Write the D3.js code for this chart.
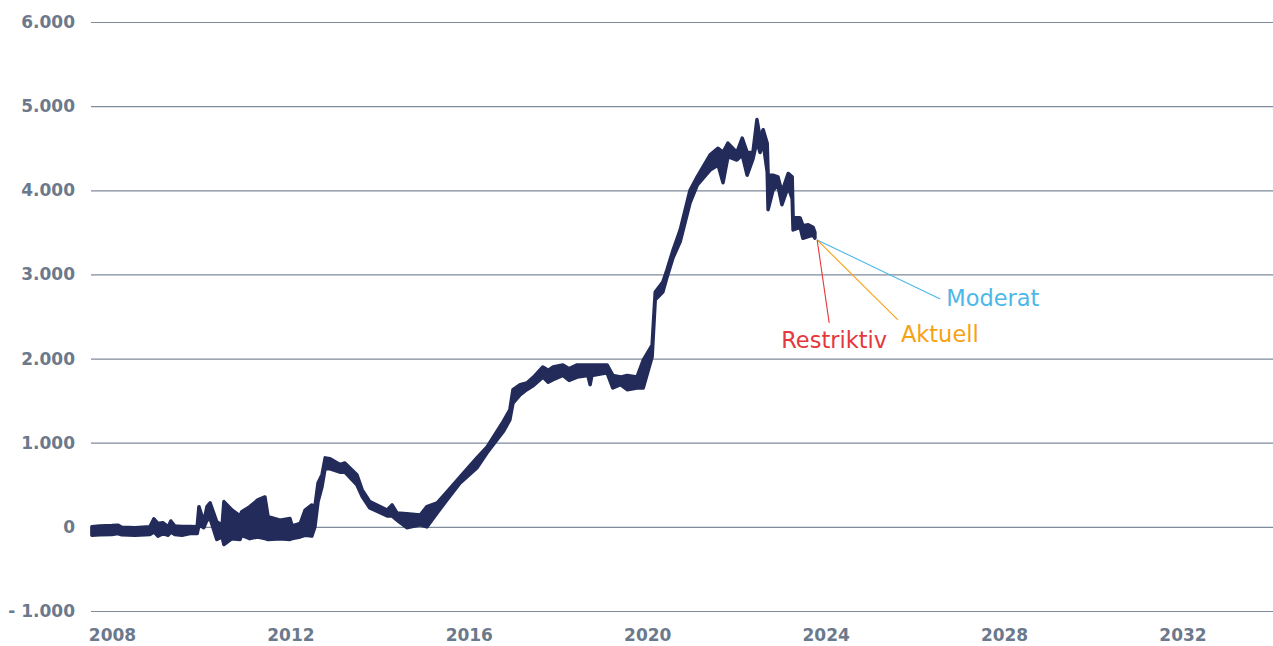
<!DOCTYPE html>
<html>
<head>
<meta charset="utf-8">
<script src="https://cdn.jsdelivr.net/npm/d3@7"></script>
<style>
  html, body { margin: 0; padding: 0; background: #fff; }
  svg { display: block; }
</style>
</head>
<body>
<div id="chart"></div>
<script>
// band of the series: decimal year, upper edge, lower edge
const years = [2007.55, 2007.73, 2008.00, 2008.13, 2008.22, 2008.52, 2008.85, 2008.94, 2009.03, 2009.14,
  2009.26, 2009.32, 2009.41, 2009.57, 2009.75, 2009.91, 2009.95, 2010.06, 2010.13, 2010.20,
  2010.35, 2010.47, 2010.51, 2010.69, 2010.87, 2010.91, 2011.09, 2011.27, 2011.43, 2011.50,
  2011.77, 2011.99, 2012.04, 2012.22, 2012.33, 2012.48, 2012.55, 2012.62, 2012.71, 2012.78,
  2012.89, 2013.11, 2013.22, 2013.49, 2013.61, 2013.78, 2014.17, 2014.28, 2014.39, 2014.61,
  2014.91, 2015.06, 2015.29, 2015.51, 2015.80, 2016.18, 2016.41, 2016.77, 2016.92, 2016.99,
  2017.15, 2017.30, 2017.45, 2017.66, 2017.78, 2017.89, 2018.11, 2018.25, 2018.43, 2018.67,
  2018.72, 2018.76, 2019.10, 2019.23, 2019.40, 2019.55, 2019.77, 2019.91, 2020.11, 2020.18,
  2020.35, 2020.44, 2020.58, 2020.74, 2020.96, 2021.12, 2021.41, 2021.59, 2021.70, 2021.81,
  2022.01, 2022.13, 2022.24, 2022.37, 2022.46, 2022.53, 2022.60, 2022.69, 2022.71, 2022.82,
  2022.93, 2023.02, 2023.16, 2023.25, 2023.27, 2023.43, 2023.49, 2023.61, 2023.72, 2023.76];
const upper = [0, 10, 15, 20, -5, -10, 0, 95, 40, 50,
  0, 70, 10, 5, 5, 0, 240, 60, 240, 285,
  60, 20, 300, 200, 130, 180, 240, 320, 355, 120,
  80, 100, 10, 40, 200, 260, 240, 520, 620, 820,
  810, 740, 760, 620, 440, 300, 200, 260, 165, 155,
  140, 240, 285, 415, 590, 820, 950, 1250, 1390, 1630,
  1690, 1710, 1780, 1900, 1860, 1900, 1925, 1880, 1925, 1925,
  1925, 1925, 1925, 1800, 1780, 1800, 1780, 1980, 2160, 2790,
  2910, 3050, 3290, 3530, 4000, 4160, 4420, 4500, 4450, 4560,
  4450, 4620, 4450, 4450, 4840, 4630, 4720, 4560, 4180, 4180,
  4160, 3980, 4200, 4160, 3690, 3670, 3580, 3590, 3560, 3500];
const lower = [-100, -95, -90, -80, -95, -100, -90, -60, -110, -80,
  -100, -60, -90, -100, -80, -80, 20, -10, 80, 100,
  -150, -120, -210, -140, -150, -100, -140, -120, -140, -150,
  -140, -150, -140, -120, -100, -110, 0, 300, 480, 700,
  690, 650, 650, 500, 360, 225, 130, 130, 80, -10,
  25, 0, 165, 320, 520, 700, 880, 1130, 1270, 1470,
  1570, 1630, 1680, 1780, 1720, 1750, 1800, 1740, 1780, 1800,
  1690, 1800, 1830, 1650, 1690, 1630, 1650, 1650, 2020, 2700,
  2790, 2960, 3200, 3390, 3850, 4060, 4240, 4300, 4090, 4400,
  4360, 4420, 4180, 4370, 4580, 4450, 4560, 4220, 3770, 4000,
  4060, 3830, 4040, 3900, 3530, 3560, 3430, 3450, 3470, 3430];

const yTicks = [-1000, 0, 1000, 2000, 3000, 4000, 5000, 6000];
const xTicks = [2008, 2012, 2016, 2020, 2024, 2028, 2032];

// scenario leader lines: start point and label end point
const scenarioNames = ["Moderat", "Aktuell", "Restriktiv"];
const scenarioColors = ["#4cb8e8", "#f5a313", "#e5383e"];
const scenarioStart = [2023.81, 3410];
const scenarioEndYear = [2026.57, 2025.62, 2024.08];
const scenarioEndValue = [2709, 2459, 2424];

const width = 1273, height = 646;
const margin = {top: 22, right: 0, bottom: 35, left: 91};
const font = "'DejaVu Sans', sans-serif";

const x = d3.scaleLinear().domain([2007.53, 2034.03]).range([margin.left, width - margin.right]);
const y = d3.scaleLinear().domain([-1000, 6000]).range([height - margin.bottom, margin.top]);

const de = d3.formatLocale({decimal: ",", thousands: ".", grouping: [3], currency: ["", " €"]});
const fmt = de.format(",d");
const yFmt = v => v < 0 ? "- " + fmt(-v) : fmt(v);

const svg = d3.select("#chart").append("svg")
  .attr("width", width)
  .attr("height", height)
  .attr("font-family", font);

// gridlines + y labels
const yAxis = svg.append("g")
  .attr("transform", `translate(${margin.left},0)`)
  .call(d3.axisLeft(y).tickValues(yTicks).tickFormat(yFmt)
    .tickSize(-(width - margin.left - margin.right)).tickPadding(16))
  .attr("font-family", font);
yAxis.select(".domain").remove();
yAxis.selectAll(".tick line").attr("stroke", "#7f8a9b").attr("stroke-width", 1.2);
yAxis.selectAll(".tick text")
  .attr("fill", "#6c798c")
  .attr("font-size", 17)
  .attr("font-weight", 700);

// x labels
const xAxis = svg.append("g")
  .attr("transform", `translate(0,${height - margin.bottom})`)
  .call(d3.axisBottom(x).tickValues(xTicks).tickFormat(d3.format("d")).tickSize(0).tickPadding(18))
  .attr("font-family", font);
xAxis.select(".domain").remove();
xAxis.selectAll(".tick text")
  .attr("fill", "#6c798c")
  .attr("font-size", 17)
  .attr("font-weight", 700);

const band = years.map((t, i) => ({t, hi: upper[i], lo: lower[i]}));

svg.append("path")
  .datum(band)
  .attr("fill", "#222b59")
  .attr("stroke", "#222b59")
  .attr("stroke-width", 3.5)
  .attr("stroke-linejoin", "round")
  .attr("d", d3.area().x(d => x(d.t)).y0(d => y(d.lo)).y1(d => y(d.hi)));

// scenario leaders and labels
const labelDx = [6, 3, -48];
const labelDy = [7, 22, 25];
scenarioNames.forEach((name, i) => {
  svg.append("line")
    .attr("x1", x(scenarioStart[0])).attr("y1", y(scenarioStart[1]))
    .attr("x2", x(scenarioEndYear[i])).attr("y2", y(scenarioEndValue[i]))
    .attr("stroke", scenarioColors[i])
    .attr("stroke-width", 1.1);
  svg.append("text")
    .attr("x", x(scenarioEndYear[i]) + labelDx[i])
    .attr("y", y(scenarioEndValue[i]) + labelDy[i])
    .attr("fill", scenarioColors[i])
    .attr("font-size", 22.5)
    .text(name);
});
</script>
</body>
</html>
